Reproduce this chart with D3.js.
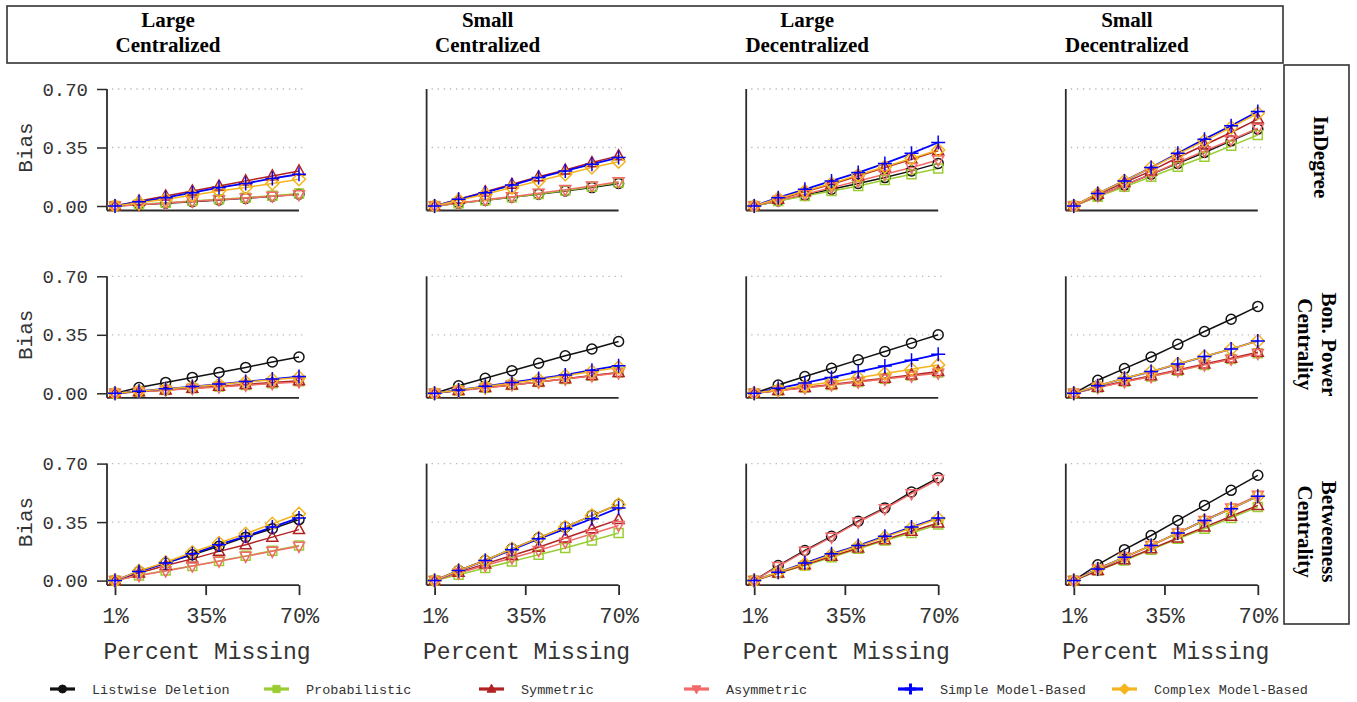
<!DOCTYPE html>
<html>
<head>
<meta charset="utf-8">
<script src="https://cdn.jsdelivr.net/npm/d3@7"></script>
<style>
body { margin: 0; background: #fff; }
</style>
</head>
<body>
<svg id="chart" width="1357" height="702"></svg>
<script>
var percents = [1, 10, 20, 30, 40, 50, 60, 70]
var xTicks = [1, 35, 70]
var yTicks = [0, 0.35, 0.70]
var networks = [["Large", "Centralized"], ["Small", "Centralized"],
		["Large", "Decentralized"], ["Small", "Decentralized"]]
var measures = [["InDegree"], ["Bon. Power", "Centrality"], ["Betweeness", "Centrality"]]
var methods = ["Listwise Deletion", "Probabilistic", "Symmetric",
	       "Asymmetric", "Simple Model-Based", "Complex Model-Based"]

// bias by [measure][network][percent]
var listwise = [
    [[0, 0.008, 0.017, 0.026, 0.036, 0.046, 0.058, 0.07],
     [0, 0.016, 0.034, 0.052, 0.07, 0.09, 0.11, 0.135],
     [0, 0.03, 0.065, 0.1, 0.135, 0.17, 0.21, 0.255],
     [0, 0.06, 0.125, 0.19, 0.255, 0.32, 0.39, 0.46]],
    [[0, 0.035, 0.065, 0.095, 0.125, 0.155, 0.187, 0.217],
     [0, 0.045, 0.09, 0.135, 0.18, 0.225, 0.265, 0.31],
     [0, 0.05, 0.1, 0.15, 0.2, 0.25, 0.3, 0.35],
     [0, 0.078, 0.148, 0.217, 0.293, 0.37, 0.443, 0.52]],
    [[0, 0.055, 0.105, 0.155, 0.205, 0.26, 0.31, 0.365],
     [0, 0.06, 0.12, 0.19, 0.255, 0.32, 0.39, 0.455],
     [0, 0.09, 0.18, 0.265, 0.355, 0.435, 0.53, 0.615],
     [0, 0.095, 0.185, 0.27, 0.36, 0.45, 0.54, 0.63]]]

var probabilistic = [
    [[0, 0.01, 0.02, 0.03, 0.04, 0.05, 0.062, 0.075],
     [0, 0.017, 0.035, 0.053, 0.072, 0.092, 0.115, 0.14],
     [0, 0.03, 0.06, 0.09, 0.12, 0.155, 0.19, 0.225],
     [0, 0.055, 0.115, 0.175, 0.235, 0.295, 0.36, 0.425]],
    [[0, 0.01, 0.02, 0.03, 0.04, 0.05, 0.06, 0.072],
     [0, 0.017, 0.034, 0.05, 0.068, 0.085, 0.105, 0.125],
     [0, 0.017, 0.034, 0.05, 0.068, 0.087, 0.106, 0.125],
     [0, 0.035, 0.07, 0.1, 0.135, 0.17, 0.205, 0.24]],
    [[0, 0.03, 0.06, 0.088, 0.118, 0.148, 0.178, 0.21],
     [0, 0.035, 0.075, 0.115, 0.155, 0.195, 0.24, 0.285],
     [0, 0.045, 0.09, 0.14, 0.19, 0.24, 0.285, 0.335],
     [0, 0.06, 0.12, 0.185, 0.25, 0.31, 0.375, 0.44]]]

var symmetric = [
    [[0, 0.03, 0.06, 0.09, 0.12, 0.15, 0.18, 0.21],
     [0, 0.04, 0.085, 0.13, 0.175, 0.215, 0.26, 0.30],
     [0, 0.04, 0.085, 0.13, 0.18, 0.23, 0.28, 0.33],
     [0, 0.07, 0.14, 0.21, 0.29, 0.365, 0.44, 0.52]],
    [[0, 0.01, 0.02, 0.03, 0.042, 0.053, 0.064, 0.075],
     [0, 0.017, 0.034, 0.05, 0.068, 0.087, 0.106, 0.125],
     [0, 0.017, 0.035, 0.053, 0.072, 0.09, 0.11, 0.13],
     [0, 0.036, 0.072, 0.105, 0.14, 0.175, 0.21, 0.245]],
    [[0, 0.045, 0.09, 0.13, 0.175, 0.215, 0.26, 0.305],
     [0, 0.05, 0.1, 0.15, 0.2, 0.255, 0.31, 0.365],
     [0, 0.045, 0.095, 0.145, 0.195, 0.245, 0.295, 0.345],
     [0, 0.06, 0.125, 0.19, 0.255, 0.32, 0.385, 0.45]]]

var asymmetric = [
    [[0, 0.008, 0.018, 0.028, 0.038, 0.048, 0.058, 0.068],
     [0, 0.018, 0.037, 0.056, 0.077, 0.098, 0.12, 0.145],
     [0, 0.035, 0.07, 0.11, 0.15, 0.19, 0.23, 0.275],
     [0, 0.06, 0.125, 0.19, 0.26, 0.33, 0.395, 0.465]],
    [[0, 0.009, 0.018, 0.028, 0.038, 0.048, 0.058, 0.068],
     [0, 0.016, 0.032, 0.05, 0.067, 0.085, 0.104, 0.122],
     [0, 0.016, 0.032, 0.05, 0.067, 0.085, 0.103, 0.12],
     [0, 0.034, 0.068, 0.1, 0.135, 0.17, 0.204, 0.238]],
    [[0, 0.03, 0.058, 0.087, 0.116, 0.145, 0.175, 0.205],
     [0, 0.045, 0.09, 0.135, 0.18, 0.23, 0.28, 0.33],
     [0, 0.085, 0.175, 0.26, 0.35, 0.43, 0.52, 0.605],
     [0, 0.07, 0.14, 0.21, 0.285, 0.36, 0.435, 0.51]]]

var simpleModel = [
    [[0, 0.025, 0.05, 0.08, 0.11, 0.135, 0.165, 0.19],
     [0, 0.04, 0.08, 0.125, 0.17, 0.21, 0.25, 0.29],
     [0, 0.05, 0.1, 0.15, 0.2, 0.255, 0.315, 0.38],
     [0, 0.075, 0.15, 0.23, 0.315, 0.4, 0.48, 0.565]],
    [[0, 0.013, 0.027, 0.04, 0.055, 0.07, 0.085, 0.1],
     [0, 0.02, 0.042, 0.065, 0.088, 0.11, 0.138, 0.165],
     [0, 0.03, 0.062, 0.095, 0.13, 0.163, 0.198, 0.233],
     [0, 0.045, 0.09, 0.13, 0.175, 0.22, 0.265, 0.313]],
    [[0, 0.055, 0.105, 0.16, 0.215, 0.265, 0.32, 0.375],
     [0, 0.06, 0.12, 0.185, 0.25, 0.31, 0.37, 0.435],
     [0, 0.05, 0.105, 0.16, 0.21, 0.265, 0.32, 0.375],
     [0, 0.07, 0.14, 0.21, 0.285, 0.36, 0.43, 0.505]]]

var complexModel = [
    [[0, 0.02, 0.04, 0.065, 0.09, 0.11, 0.135, 0.16],
     [0, 0.035, 0.07, 0.11, 0.15, 0.19, 0.23, 0.265],
     [0, 0.045, 0.09, 0.135, 0.185, 0.235, 0.285, 0.335],
     [0, 0.075, 0.15, 0.23, 0.31, 0.39, 0.47, 0.555]],
    [[0, 0.013, 0.026, 0.039, 0.053, 0.067, 0.081, 0.095],
     [0, 0.02, 0.04, 0.06, 0.082, 0.105, 0.13, 0.155],
     [0, 0.022, 0.045, 0.068, 0.093, 0.118, 0.144, 0.17],
     [0, 0.045, 0.09, 0.13, 0.175, 0.22, 0.265, 0.313]],
    [[0, 0.058, 0.11, 0.17, 0.225, 0.28, 0.34, 0.40],
     [0, 0.06, 0.12, 0.19, 0.255, 0.32, 0.39, 0.455],
     [0, 0.05, 0.1, 0.155, 0.205, 0.26, 0.315, 0.37],
     [0, 0.07, 0.14, 0.21, 0.285, 0.36, 0.43, 0.505]]]

var series = [listwise, probabilistic, symmetric, asymmetric, simpleModel, complexModel]
var colors = ["#111111", "#9acd32", "#b22222", "#f26a6a", "#0000ff", "#f5b41e"]
var pointOrder = [0, 1, 2, 3, 5, 4]

var mono = "'Liberation Mono', 'DejaVu Sans Mono', monospace"
var serif = "'Liberation Serif', 'Times New Roman', serif"
var ink = "#2b2b2b"

// open marker shapes, one per method
var shapes = [
    function(s){ return "M" + s + ",0A" + s + "," + s + " 0 1,1 " + (-s) + ",0A" + s + "," + s + " 0 1,1 " + s + ",0Z" },
    function(s){ var h = s * 0.9; return "M" + (-h) + "," + (-h) + "H" + h + "V" + h + "H" + (-h) + "Z" },
    function(s){ return "M0," + (-s * 1.2) + "L" + (s * 1.1) + "," + (s * 0.8) + "L" + (-s * 1.1) + "," + (s * 0.8) + "Z" },
    function(s){ return "M0," + (s * 1.2) + "L" + (s * 1.1) + "," + (-s * 0.8) + "L" + (-s * 1.1) + "," + (-s * 0.8) + "Z" },
    function(s){ var h = s * 1.4; return "M" + (-h) + ",0H" + h + "M0," + (-h) + "V" + h },
    function(s){ var h = s * 1.3; return "M0," + (-h) + "L" + h + ",0L0," + h + "L" + (-h) + ",0Z" }
]

var svg = d3.select("#chart")

var colX = networks.map(function(d, i){ return 107 + 319.6 * i })
var rowTop = measures.map(function(d, i){ return 89 + 187.3 * i })

// strip boxes
svg.append("rect")
    .attr("x", 7).attr("y", 6).attr("width", 1276).attr("height", 57)
    .attr("fill", "none").attr("stroke", "#333").attr("stroke-width", 1.6)
svg.append("rect")
    .attr("x", 1284).attr("y", 65).attr("width", 65).attr("height", 559)
    .attr("fill", "none").attr("stroke", "#333").attr("stroke-width", 1.6)

networks.forEach(function(lines, c){
    var t = svg.append("text")
	.attr("text-anchor", "middle")
	.attr("font-family", serif).attr("font-weight", "bold").attr("font-size", 21)
	.attr("fill", "#000")
    lines.forEach(function(s, k){
	t.append("tspan").attr("x", colX[c] + 61).attr("y", 26.5 + 25 * k).text(s)
    })
})

measures.forEach(function(lines, r){
    var g = svg.append("g")
	.attr("transform", "translate(1316," + (rowTop[r] + 68) + ") rotate(90)")
    var t = g.append("text")
	.attr("text-anchor", "middle")
	.attr("font-family", serif).attr("font-weight", "bold").attr("font-size", 21)
	.attr("fill", "#000")
    var base = lines.length == 1 ? 2 : -6
    lines.forEach(function(s, k){
	t.append("tspan").attr("x", 0).attr("y", base + 24 * k).text(s)
    })
})

measures.forEach(function(m, r){
    networks.forEach(function(n, c){
	var x = d3.scaleLinear().domain([1, 70]).range([colX[c] + 8, colX[c] + 192])
	var y = d3.scaleLinear().domain([0, 0.7]).range([rowTop[r] + 117, rowTop[r]])
	var g = svg.append("g")
	var base = y(0) + 4.5

	g.selectAll("line.grid")
	    .data([0.35, 0.7])
	    .enter()
	    .append("line")
	    .attr("class", "grid")
	    .attr("x1", colX[c] + 5).attr("x2", colX[c] + 200)
	    .attr("y1", function(d){ return y(d) }).attr("y2", function(d){ return y(d) })
	    .attr("stroke", "#b8b8b8").attr("stroke-width", 1.3)
	    .attr("stroke-dasharray", "1.3,4.8")

	g.append("line")
	    .attr("x1", colX[c]).attr("x2", colX[c])
	    .attr("y1", y(0.7)).attr("y2", base)
	    .attr("stroke", ink).attr("stroke-width", 1.8)
	g.append("line")
	    .attr("x1", colX[c]).attr("x2", x(70))
	    .attr("y1", base).attr("y2", base)
	    .attr("stroke", ink).attr("stroke-width", 1.8)

	if (c == 0) {
	    var ya = g.append("g")
		.attr("transform", "translate(" + colX[c] + ",0)")
		.call(d3.axisLeft(y).tickValues(yTicks).tickFormat(d3.format(".2f"))
		      .tickSize(10).tickPadding(9))
	    ya.select(".domain").remove()
	    ya.selectAll("line").attr("stroke", ink).attr("stroke-width", 1.5)
	    ya.selectAll("text").attr("font-family", mono).attr("font-size", 19).attr("fill", "#333")

	    svg.append("text")
		.attr("transform", "translate(32," + y(0.35) + ") rotate(-90)")
		.attr("text-anchor", "middle")
		.attr("font-family", mono).attr("font-size", 21).attr("fill", "#333")
		.text("Bias")
	}

	if (r == measures.length - 1) {
	    var xa = g.append("g")
		.attr("transform", "translate(0," + base + ")")
		.call(d3.axisBottom(x).tickValues(xTicks).tickFormat(function(d){ return d + "%" })
		      .tickSize(10).tickPadding(12))
	    xa.select(".domain").remove()
	    xa.selectAll("line").attr("stroke", ink).attr("stroke-width", 1.8)
	    xa.selectAll("text").attr("font-family", mono).attr("font-size", 22).attr("fill", "#333")

	    svg.append("text")
		.attr("x", colX[c] + 100).attr("y", 659)
		.attr("text-anchor", "middle")
		.attr("font-family", mono).attr("font-size", 23).attr("fill", "#333")
		.text("Percent Missing")
	}

	var line = d3.line()
	    .x(function(d, i){ return x(percents[i]) })
	    .y(function(d){ return y(d) })

	series.forEach(function(s, k){
	    g.append("path")
		.datum(s[r][c])
		.attr("d", line)
		.attr("fill", "none")
		.attr("stroke", colors[k])
		.attr("stroke-width", k == 4 ? 1.8 : 1.5)
	})

	pointOrder.forEach(function(k){
	    g.append("g")
		.selectAll("path")
		.data(series[k][r][c])
		.enter()
		.append("path")
		.attr("transform", function(d, i){ return "translate(" + x(percents[i]) + "," + y(d) + ")" })
		.attr("d", shapes[k](5))
		.attr("fill", "none")
		.attr("stroke", colors[k])
		.attr("stroke-width", 1.5)
	})
    })
})

// legend
var legendX = [50, 264, 479, 684, 898, 1112]
var legend = svg.append("g")
    .selectAll("g")
    .data(methods)
    .enter()
    .append("g")
    .attr("transform", function(d, i){ return "translate(" + legendX[i] + ",689)" })

legend.append("line")
    .attr("x1", 0).attr("x2", 25).attr("y1", 0).attr("y2", 0)
    .attr("stroke", function(d, i){ return colors[i] })
    .attr("stroke-width", 3.2)
legend.append("path")
    .attr("transform", "translate(12.5,0)")
    .attr("d", function(d, i){ return shapes[i](4) })
    .attr("fill", function(d, i){ return i == 4 ? "none" : colors[i] })
    .attr("stroke", function(d, i){ return colors[i] })
    .attr("stroke-width", function(d, i){ return i == 4 ? 3 : 1 })
legend.append("text")
    .attr("x", 42).attr("y", 0).attr("dy", "0.35em")
    .attr("font-family", mono).attr("font-size", 13.5).attr("fill", "#333")
    .text(function(d){ return d })
</script>
</body>
</html>
